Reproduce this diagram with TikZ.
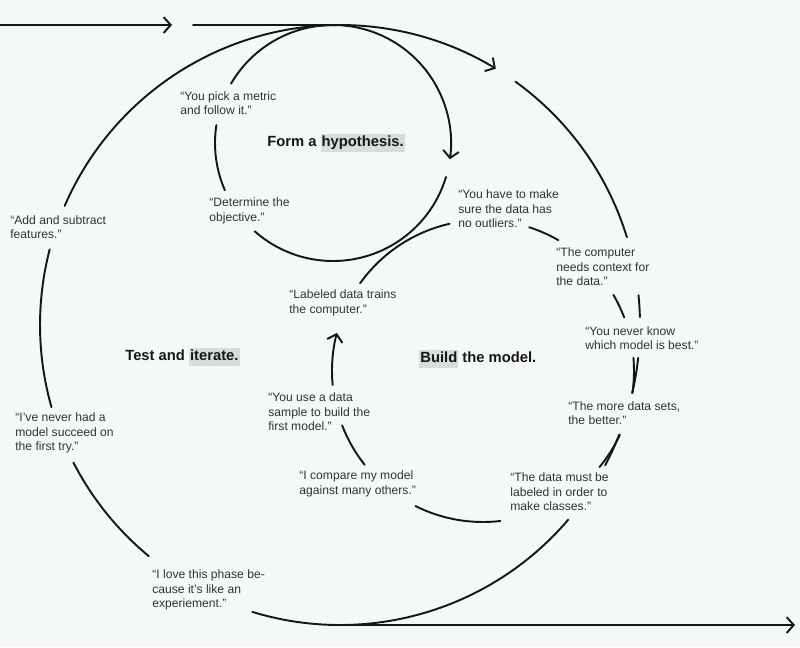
\documentclass[tikz,border=0pt]{standalone}
\usepackage{fontspec}
\setmainfont{Liberation Sans}
\usetikzlibrary{arrows.meta}

\definecolor{paper}{RGB}{245,249,245}
\definecolor{ink}{RGB}{22,22,22}
\definecolor{hlgray}{RGB}{213,222,221}

\newcommand{\hlword}[1]{{\setlength{\fboxsep}{0.6pt}\colorbox{hlgray}{\rule[-2.4pt]{0pt}{9.2pt}#1}}}

\begin{document}
\begin{tikzpicture}[x=0.02cm, y=-0.02cm, line cap=round,
        arcline/.style={line width=1.1pt, draw=ink},
        saying/.style={anchor=west, align=left, inner sep=0pt, text=ink!88, font=\fontsize{6.9}{8.3}\selectfont},
        phasename/.style={anchor=west, inner sep=0pt, text=ink, font=\fontsize{8.4}{10}\selectfont\bfseries},
        >={Straight Barb[length=4pt, width=9pt]}]

        \useasboundingbox (0,0) rectangle (800,647);
        \fill[paper] (0,0) rectangle (800,647);

        \coordinate (big) at (340,325);
        \coordinate (small) at (333,143);
        \coordinate (inner) at (483,371);
        \coordinate (in) at (0,25);
        \coordinate (inend) at (172,25);
        \coordinate (join) at (193,25);
        \coordinate (top) at (340,25);
        \coordinate (out) at (795,625);

        \node[saying] (metric) at (180,103) {“You pick a metric\\and follow it.”};
        \node[phasename] (hypo) at (267,143) {Form a \hlword{hypothesis.}};
        \node[saying] (objective) at (209,211) {“Determine the\\objective.”};
        \node[saying] (features) at (10,227) {“Add and subtract\\features.”};
        \node[phasename] (iterate) at (125,357) {Test and \hlword{iterate.}};
        \node[saying] (firsttry) at (15,433) {“I’ve never had a\\model succeed on\\the first try.”};
        \node[saying] (experiment) at (152,590) {“I love this phase be-\\cause it’s like an\\experiement.”};

        \node[saying] (outliers) at (458,209) {“You have to make\\sure the data has\\no outliers.”};
        \node[saying] (labeled) at (289,303) {“Labeled data trains\\the computer.”};
        \node[saying] (context) at (556,267) {“The computer\\needs context for\\the data.”};
        \node[saying] (neverknow) at (585,338) {“You never know\\which model is best.”};
        \node[phasename] (build) at (419,359) {\hlword{Build} the model.};
        \node[saying] (datasets) at (568,413) {“The more data sets,\\the better.”};
        \node[saying] (sample) at (268,412) {“You use a data\\sample to build the\\first model.”};
        \node[saying] (compare) at (299,484) {“I compare my model\\against many others.”};
        \node[saying] (classes) at (510,492) {“The data must be\\labeled in order to\\make classes.”};

        % way in
        \draw[arcline, ->] (in) -- (inend);
        \draw[arcline] (join) -- (top);

        % big loop
        \draw[arcline, ->] (big) ++(-90:300) arc[start angle=-90, end angle=-58.7, radius=300];
        \foreach \a/\b in {-54.2/-17, -5.7/-1.5, 6.3/13.1, 21.4/27.9, 40.5/90, 129.6/152.7, 164.1/194.6, 203.4/270} {
            \draw[arcline] (big) ++(\a:300) arc[start angle=\a, end angle=\b, radius=300];
        }
        \draw[arcline, ->] (big) ++(107:300) arc[start angle=107, end angle=90, radius=300] -- (out);

        % hypothesis loop
        \draw[arcline, ->] (small) ++(-90:118) arc[start angle=-90, end angle=7.9, radius=118];
        \foreach \a/\b in {16.7/131.6, 156.4/188.7, 210.2/270} {
            \draw[arcline] (small) ++(\a:118) arc[start angle=\a, end angle=\b, radius=118];
        }

        % model loop
        \draw[arcline, ->] (inner) ++(174.7:151) arc[start angle=174.7, end angle=194.6, radius=151];
        \foreach \a/\b in {215.5/257.2, 141.6/158.9, 83.4/116.6, 25/39.5, -5/8.4, -30.3/-20.8, -72.2/-60.1} {
            \draw[arcline] (inner) ++(\a:151) arc[start angle=\a, end angle=\b, radius=151];
        }

\end{tikzpicture}
\end{document}
